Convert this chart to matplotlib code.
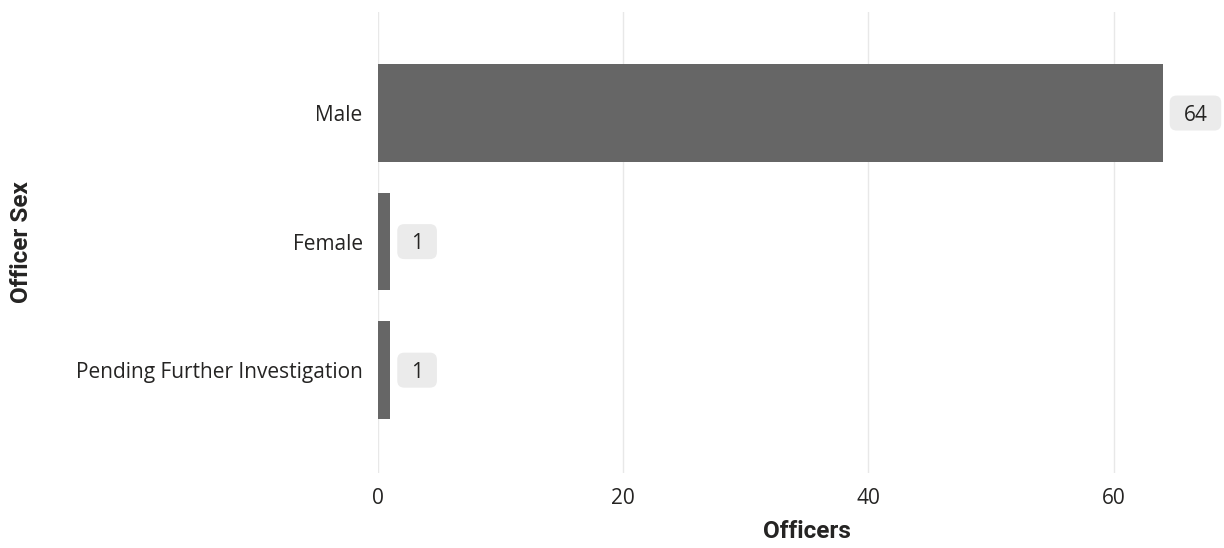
import matplotlib
matplotlib.use("Agg")
import matplotlib.pyplot as plt
from matplotlib.patches import FancyBboxPatch
from matplotlib.transforms import IdentityTransform

categories = ["Male", "Female", "Pending Further Investigation"]
officers = [64, 1, 1]
x_ticks = [0, 20, 40, 60]

plt.rcParams['font.family'] = ['Open Sans', 'DejaVu Sans']

fig = plt.figure(figsize=(12.24, 5.48), dpi=100)
ax = fig.add_axes([378/1224, 1-473/548, 1-378/1224, (473-12)/548])

ypos = list(range(len(categories)))
ax.barh(ypos, officers, height=0.76, color="#666666", zorder=2)
ax.set_ylim(2.80, -0.786)
ax.set_xlim(0, 69)

ax.set_xticks(x_ticks)
ax.set_yticks(ypos)
ax.set_yticklabels(categories)
ax.tick_params(axis='both', length=0, labelsize=15, labelcolor="#252423")
ax.tick_params(axis='y', pad=11)
ax.tick_params(axis='x', pad=11)
ax.grid(axis='x', color="#E8E8E8", linewidth=1, zorder=0)
for s in ax.spines.values():
    s.set_visible(False)

labels = []
for y, v in zip(ypos, officers):
    t = ax.annotate(str(v), xy=(v, y), xytext=(15, -1.5), textcoords="offset points",
                    ha="left", va="center", fontsize=15, color="#252423", zorder=5)
    labels.append((t, v, y))

fig.canvas.draw()
renderer = fig.canvas.get_renderer()
for t, v, y in labels:
    bb = t.get_window_extent(renderer)
    xb, yc = ax.transData.transform((v, y))
    x0 = xb + 7
    pad = bb.x0 - x0
    w = bb.width + 2 * pad
    h = 35
    box = FancyBboxPatch((x0, yc - h / 2), w, h,
                         boxstyle="round,pad=0,rounding_size=7",
                         transform=IdentityTransform(), fc="#EBEBEB", ec="none",
                         zorder=4, clip_on=False)
    ax.add_patch(box)

fig.text(807/1224, 1-532/548, "Officers", ha="center", va="center",
         fontsize=17.5, fontweight="bold", color="#252423", family=["Roboto", "DejaVu Sans"])
fig.text(22/1224, 1-242/548, "Officer Sex", rotation=90, ha="center", va="center",
         fontsize=17.5, fontweight="bold", color="#252423", family=["Roboto", "DejaVu Sans"])

fig.savefig("out.png", dpi=100)
